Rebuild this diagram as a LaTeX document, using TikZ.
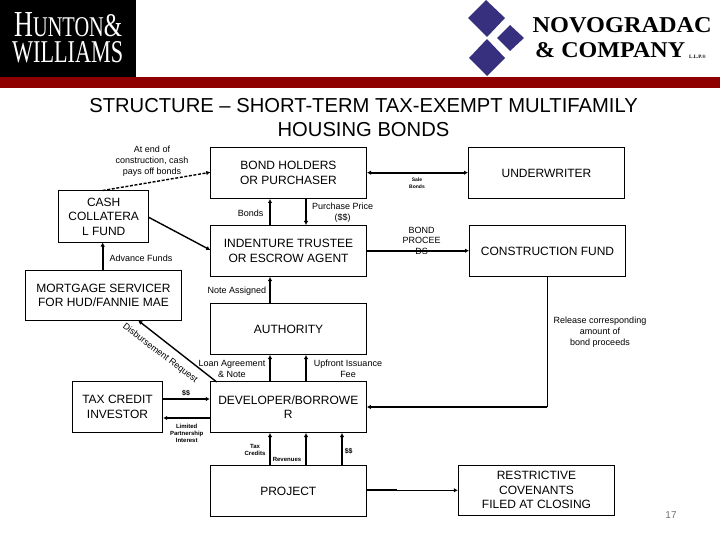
\documentclass[tikz,border=0pt]{standalone}
\usepackage{graphicx}
\usepackage{fontspec}
\setmainfont{Liberation Sans}
\newfontfamily\logofont{Liberation Serif}
\usetikzlibrary{arrows.meta}
\tikzset{
  x=1pt,y=-1pt,
  boxed/.style={draw=black,line width=1pt,fill=white,inner sep=0pt,align=center,font=\fontsize{12}{14.5}\selectfont},
  wide/.style={boxed,minimum width=156pt,minimum height=51pt},
  lab/.style={inner sep=0pt,align=center,font=\fontsize{9}{11}\selectfont},
  tiny/.style={inner sep=0pt,align=center,font=\fontsize{6}{7}\selectfont\bfseries},
  flow/.style={line width=1.7pt,-{Latex[length=4pt,width=4.5pt]}},
  both/.style={line width=1.7pt,{Latex[length=4pt,width=4.5pt]}-{Latex[length=4pt,width=4.5pt]}},
  logo/.style={inner sep=0pt,anchor=base west},
}
\definecolor{band}{HTML}{8F0000}
\definecolor{navy}{HTML}{36307F}
\begin{document}
\begin{tikzpicture}
\useasboundingbox (0,0) rectangle (720,540);
\fill[white] (0,0) rectangle (720,540);
% header
\fill[black] (0,0) rectangle (136,77);
\fill[band] (0,77) rectangle (720,88);
\node[logo,text=white] (hw1) at (14,37) {\resizebox{108pt}{24pt}{\logofont H\fontsize{7.8}{8}\selectfont UNTON\fontsize{9}{9}\selectfont\&}};
\node[logo,text=white] (hw2) at (12,63) {\resizebox{111pt}{21pt}{\logofont WILLIAMS}};
\fill[navy] (468,18) -- (486,0) -- (505,18) -- (487,37) -- cycle;
\fill[navy] (497,38) -- (510,25) -- (524,38) -- (510,51) -- cycle;
\fill[navy] (469,58) -- (487,39) -- (505,58) -- (487,76) -- cycle;
\node[logo] (nov1) at (532.5,33) {\resizebox{179pt}{15pt}{\logofont\bfseries NOVOGRADAC}};
\node[logo] (nov2) at (535,57.5) {\resizebox{150pt}{15pt}{\logofont\bfseries \& COMPANY}};
\node[logo,font=\logofont\bfseries\fontsize{5}{5}\selectfont] (nov3) at (689,59) {L.L.P.®};
% title
\node[inner sep=0pt,align=center,font=\fontsize{20.2}{24}\selectfont] (title) at (363.5,118) {STRUCTURE – SHORT-TERM TAX-EXEMPT MULTIFAMILY\\HOUSING BONDS};
% boxes
\node[wide] (bond) at (288.5,173) {BOND HOLDERS\\OR PURCHASER};
\node[wide] (trustee) at (288.5,251) {INDENTURE TRUSTEE\\OR ESCROW AGENT};
\node[boxed,minimum width=90pt,minimum height=51pt] (cash) at (103.7,216.5) {CASH\\COLLATERA\\L FUND};
\node[boxed,minimum width=155.5pt,minimum height=50pt] (servicer) at (103.5,295.3) {MORTGAGE SERVICER\\FOR HUD/FANNIE MAE};
\node[wide] (auth) at (288.5,329) {AUTHORITY};
\node[wide] (under) at (546.5,173) {UNDERWRITER};
\node[wide] (constr) at (547.5,251) {CONSTRUCTION FUND};
\node[boxed,minimum width=90.4pt,minimum height=51pt] (credit) at (117.5,407) {TAX CREDIT\\INVESTOR};
\node[wide] (dev) at (288.3,407) {DEVELOPER/BORROWE\\R};
\node[wide] (proj) at (288.3,491) {PROJECT};
\node[boxed,minimum width=156.4pt,minimum height=50pt] (restr) at (536.5,490.3) {RESTRICTIVE\\COVENANTS\\FILED AT CLOSING};
% helper coordinates
\coordinate (xa) at (270,0);
\coordinate (xb) at (306,0);
\coordinate (xc) at (342,0);
\coordinate (xd) at (547.3,0);
\coordinate (xe) at (102.7,0);
\coordinate (ya) at (0,172.7);
\coordinate (yb) at (0,250.7);
\coordinate (yc) at (0,399);
\coordinate (yd) at (0,418);
\coordinate (ye) at (0,407);
\coordinate (yf) at (0,490.3);
\coordinate (cornerr) at (xd |- ye);
\coordinate (brk) at (396.7,490.3);
\coordinate (cashr) at (148.7,217.3);
\coordinate (trl) at (210.3,250);
\coordinate (devtl) at (216.7,382);
\coordinate (srvb) at (138.3,320.6);
\coordinate (bonl) at (210.3,172.3);
% connectors
\draw[line width=1.4pt,dash pattern=on 3pt off 1.6pt,-{Latex[length=4pt,width=4.5pt]}] (xe |- cash.north) -- (bonl);
\draw[-{Latex[length=4pt,width=4.5pt]},line width=1.4pt] (cashr) -- (trl);
\draw[flow] (xe |- servicer.north) -- (xe |- cash.south);
\draw[flow] (xa |- trustee.north) -- (xa |- bond.south);
\draw[flow] (xb |- bond.south) -- (xb |- trustee.north);
\draw[flow] (xa |- auth.north) -- (xa |- trustee.south);
\draw[both] (bond.east |- ya) -- (under.west |- ya);
\draw[flow] (trustee.east |- yb) -- (constr.west |- yb);
\draw[line width=1pt] (xd |- constr.south) -- (cornerr);
\draw[flow] (cornerr) -- (dev.east |- ye);
\draw[flow,line width=1.4pt] (devtl) -- (srvb);
\draw[flow] (xa |- dev.north) -- (xa |- auth.south);
\draw[flow] (xb |- dev.north) -- (xb |- auth.south);
\draw[flow] (credit.east |- yc) -- (dev.west |- yc);
\draw[flow] (dev.west |- yd) -- (credit.east |- yd);
\draw[flow] (xa |- proj.north) -- (xa |- dev.south);
\draw[flow] (xb |- proj.north) -- (xb |- dev.south);
\draw[flow] (xc |- proj.north) -- (xc |- dev.south);
\draw[line width=1.7pt] (proj.east |- yf) -- (brk);
\draw[line width=1pt,-{Latex[length=4pt,width=4.5pt]}] (brk) -- (restr.west |- yf);
% labels
\node[lab] (l1) at (152,161) {At end of\\construction, cash\\pays off bonds};
\node[lab] (l2) at (250.7,213) {Bonds};
\node[lab] (l3) at (342.7,212.5) {Purchase Price\\(\$\$)};
\node[lab] (l4) at (141,258) {Advance Funds};
\node[lab] (l5) at (237,290.7) {Note Assigned};
\node[tiny,font=\fontsize{5}{7}\selectfont\bfseries] (l6) at (417,183.5) {Sale\\Bonds};
\node[lab,font=\fontsize{9}{10.5}\selectfont] (l7) at (421.7,240.5) {BOND\\PROCEE\\DS};
\node[lab] (l8) at (600,332) {Release corresponding\\amount of\\bond proceeds};
\node[lab] (l9) at (232,368.5) {Loan Agreement\\\& Note};
\node[lab] (l10) at (348,369) {Upfront Issuance\\Fee};
\node[lab,rotate=-37.6] (l11) at (160,353.5) {Disbursement Request};
\node[tiny,font=\fontsize{7}{7}\selectfont\bfseries] (l12) at (186,393) {\$\$};
\node[tiny] (l13) at (186.7,433) {Limited\\Partnership\\Interest};
\node[tiny] (l14) at (255,449.5) {Tax\\Credits};
\node[tiny] (l15) at (287,459) {Revenues};
\node[tiny,font=\fontsize{7}{7}\selectfont\bfseries] (l16) at (348.7,451) {\$\$};
\node[inner sep=0pt,text=black!55,font=\fontsize{10}{10}\selectfont] (pg) at (671,515) {17};
\end{tikzpicture}
\end{document}
